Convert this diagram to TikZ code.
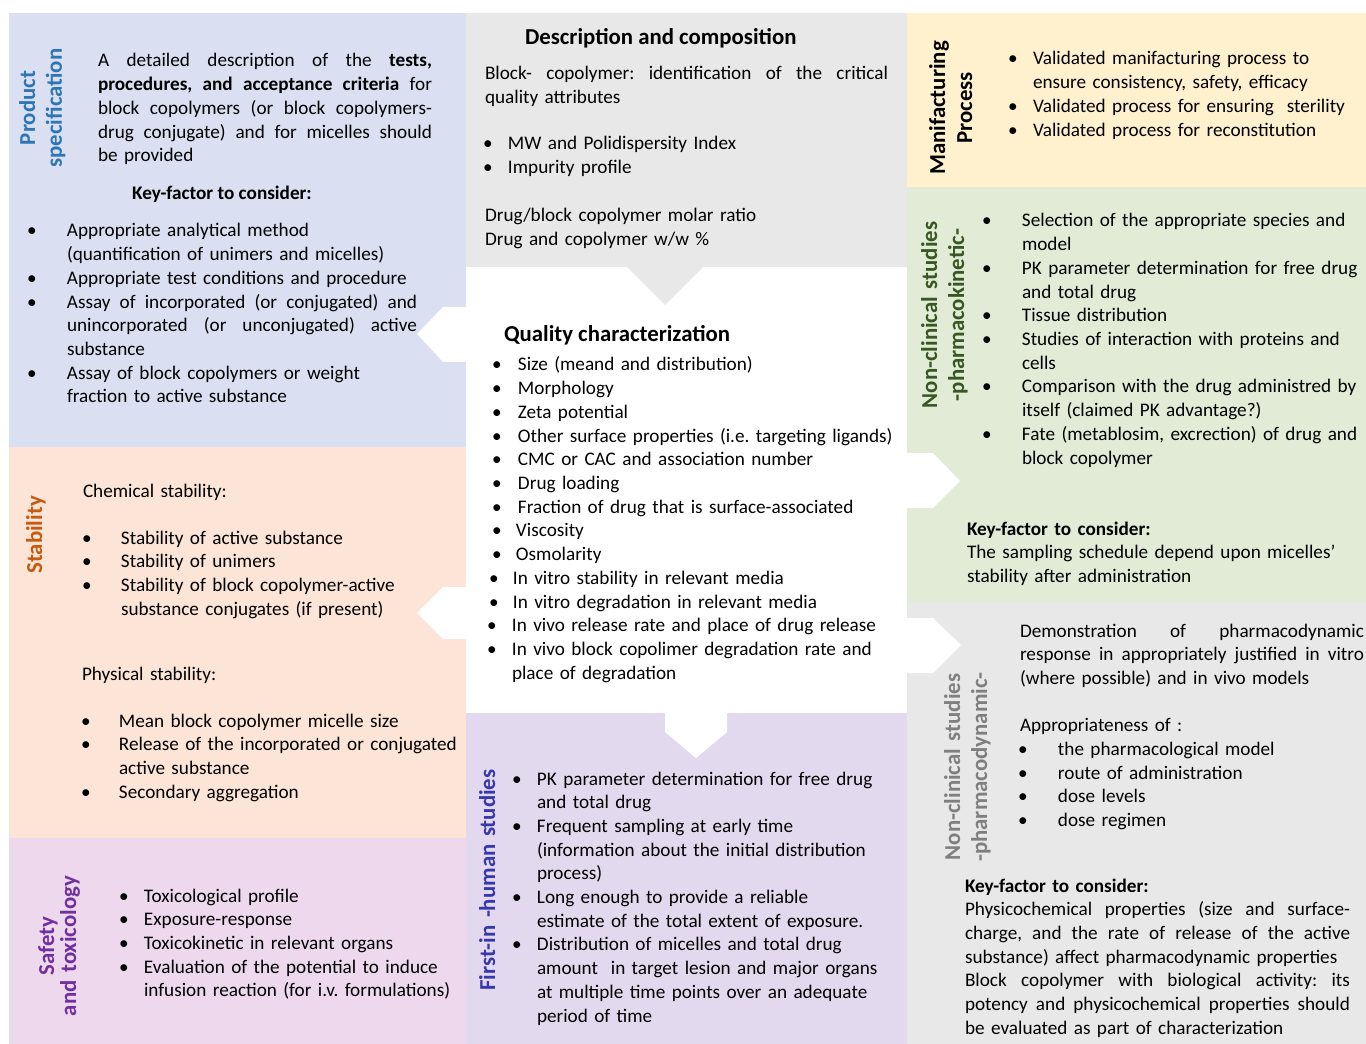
\documentclass[tikz,border=0pt]{standalone}
\usepackage{fontspec}
\setmainfont{Carlito}
\newlength\px \setlength\px{0.75pt}
\newlength\bl
\newlength\jw
\newcommand\bodyf{\fontsize{14.4pt}{17.78pt}\selectfont\frenchspacing\setlength\parskip{0pt}}
\newcommand\titf{\fontsize{17.1pt}{20.25pt}\selectfont\bfseries}
\newcommand\SL{\rule{0pt}{16\px}}
\newcommand\BB[3]{\par\noindent\SL\hspace*{#1}\makebox[#2][l]{\makebox[0pt]{\textbullet}}#3\par}
\newcommand\B[1]{\BB{0pt}{\bl}{#1}}
\newcommand\C[1]{\par\noindent\SL\hspace*{\bl}#1\par}
\newcommand\JB[1]{\hbox to \jw{\spaceskip=\fontdimen2\font plus 1fil\relax #1}}
\newcommand\BJ[1]{\BB{0pt}{\bl}{\JB{#1}}}
\newcommand\CJ[1]{\C{\JB{#1}}}
\newcommand\J[1]{\par\noindent\SL\JB{#1}\par}
\newcommand\R[1]{\par\noindent\SL#1\par}
\newcommand\E{\par\noindent\SL\par}
\definecolor{cblue}{RGB}{218,224,242}
\definecolor{cgrey}{RGB}{232,232,232}
\definecolor{cyellow}{RGB}{255,241,205}
\definecolor{cgreen}{RGB}{225,235,214}
\definecolor{csalmon}{RGB}{252,228,214}
\definecolor{cpink}{RGB}{237,216,238}
\definecolor{cpurple}{RGB}{227,217,239}
\definecolor{tblue}{RGB}{46,117,182}
\definecolor{torange}{RGB}{197,90,17}
\definecolor{tpurple}{RGB}{112,48,160}
\definecolor{tindigo}{RGB}{55,55,175}
\definecolor{tgreen}{RGB}{56,87,35}
\definecolor{tgrey}{RGB}{127,127,127}
\tikzset{
  txt/.style={anchor=north west, inner sep=0pt, outer sep=0pt, text width=20cm, font=\bodyf, yshift=5.78pt},
  tt/.style={anchor=base west, inner sep=0pt, outer sep=0pt, font=\titf},
  kf/.style={anchor=base, inner sep=0pt, outer sep=0pt, font=\bodyf\bfseries},
  vt/.style={anchor=base, inner sep=0pt, outer sep=0pt, rotate=90, text width=8cm, align=center, font=\titf},
  vts/.style={vt, font=\fontsize{17.1pt}{16.5pt}\selectfont\bfseries},
  notch/.style={fill=white}
}
\begin{document}
\begin{tikzpicture}[x=0.75pt,y=-0.75pt]
\path[use as bounding box, fill=white] (0,0) rectangle (1366,1044);
% panels
\fill[cblue] (9,13) rectangle (466,447);
\fill[cgrey] (466,13) -- (907,13) -- (907,267) -- (703,267) -- (665,305) -- (627,267) -- (466,267) -- cycle;
\fill[cyellow] (907,13) rectangle (1366,187);
\fill[cgreen] (907,187) rectangle (1366,602);
\fill[cgrey] (907,602) rectangle (1366,1044);
\fill[csalmon] (9,447) rectangle (466,838);
\fill[cpink] (9,838) rectangle (466,1044);
\fill[cpurple] (466,713) rectangle (907,1044);
% white arrows
\fill[notch] (467,307) -- (443,307) -- (417,334) -- (443,362) -- (467,362) -- cycle;
\fill[notch] (467,587) -- (443,587) -- (417,613) -- (443,639) -- (467,639) -- cycle;
\fill[notch] (906,453) -- (933,453) -- (960,481) -- (933,508) -- (906,508) -- cycle;
\fill[notch] (906,618) -- (933,618) -- (961,645) -- (933,673) -- (906,673) -- cycle;
\fill[notch] (665,712) -- (727,712) -- (727,732) -- (696,758) -- (665,732) -- cycle;

% Product specification
\node[vt,text=tblue] (pstitle) at (35,108) {Product\\specification};
\node[txt] (psintro) at (98,51) {\setlength\jw{334\px}%
\J{A detailed description of the \textbf{tests,}}%
\J{\textbf{procedures, and acceptance criteria} for}%
\J{block copolymers (or block copolymers-}%
\J{drug conjugate) and for micelles should}%
\R{be provided}};
\node[kf] (pskey) at (222,200) {Key-factor to consider:};
\node[txt] (psbul) at (32,221) {\setlength\bl{35\px}\setlength\jw{350\px}%
\B{Appropriate analytical method}%
\C{(quantification of unimers and micelles)}%
\B{Appropriate test conditions and procedure}%
\BJ{Assay of incorporated (or conjugated) and}%
\CJ{unincorporated (or unconjugated) active}%
\C{substance}%
\B{Assay of block copolymers or weight}%
\C{fraction to active substance}};

% Description and composition
\node[tt] (dctitle) at (525,45) {Description and composition};
\node[txt] (dcpara) at (485,64) {\setlength\jw{403\px}%
\J{Block- copolymer: identification of the critical}%
\R{quality attributes}};
\node[txt] (dcbul) at (488,134) {\setlength\bl{20\px}%
\B{MW and Polidispersity Index}%
\B{Impurity profile}};
\node[txt] (dcratio) at (485,206) {%
\R{Drug/block copolymer molar ratio}%
\R{Drug and copolymer w/w \%}};

% Quality characterization
\node[tt] (qctitle) at (504,342) {Quality characterization};
\node[txt] (qcbul) at (497,355) {\setlength\bl{21\px}%
\B{Size (meand and distribution)}%
\B{Morphology}%
\B{Zeta potential}%
\B{Other surface properties (i.e. targeting ligands)}%
\B{CMC or CAC and association number}%
\B{Drug loading}%
\B{Fraction of drug that is surface-associated}%
\BB{0pt}{19\px}{Viscosity}%
\BB{0pt}{19\px}{Osmolarity}%
\BB{-3\px}{19\px}{In vitro stability in relevant media}%
\BB{-3\px}{19\px}{In vitro degradation in relevant media}%
\BB{-5\px}{20\px}{In vivo release rate and place of drug release}%
\BB{-5\px}{20\px}{In vivo block copolimer degradation rate and}%
\C{\hspace*{-6\px}place of degradation}};

% Manufacturing
\node[vt] (mptitle) at (945,108) {Manifacturing\\Process};
\node[txt] (mpbul) at (1013,49) {\setlength\bl{20\px}%
\B{Validated manifacturing process to}%
\C{ensure consistency, safety, efficacy}%
\B{Validated process for ensuring\ \ sterility}%
\B{Validated process for reconstitution}};

% Pharmacokinetic
\node[vt,text=tgreen] (pktitle) at (937,315) {Non-clinical studies\\-pharmacokinetic-};
\node[txt] (pkbul) at (987,211) {\setlength\bl{35\px}%
\B{Selection of the appropriate species and}%
\C{model}%
\B{PK parameter determination for free drug}%
\C{and total drug}%
\B{Tissue distribution}%
\B{Studies of interaction with proteins and}%
\C{cells}%
\B{Comparison with the drug administred by}%
\C{itself (claimed PK advantage?)}%
\B{Fate (metablosim, excrection) of drug and}%
\C{block copolymer}};
\node[txt] (pkkey) at (967,519) {%
\R{\textbf{Key-factor to consider:}}%
\R{The sampling schedule depend upon micelles’}%
\R{stability after administration}};

% Pharmacodynamic
\node[vt,text=tgrey] (pdtitle) at (960,767) {Non-clinical studies\\-pharmacodynamic-};
\node[txt] (pdtext) at (1020,621) {\setlength\jw{344\px}\setlength\bl{35\px}%
\J{Demonstration of pharmacodynamic}%
\J{response in appropriately justified in vitro}%
\R{(where possible) and in vivo models}%
\E
\R{Appropriateness of :}%
\BB{3\px}{\bl}{the pharmacological model}%
\BB{3\px}{\bl}{route of administration}%
\BB{3\px}{\bl}{dose levels}%
\BB{3\px}{\bl}{dose regimen}};
\node[txt] (pdkey) at (965,876) {\setlength\jw{385\px}%
\R{\textbf{Key-factor to consider:}}%
\J{Physicochemical properties (size and surface-}%
\J{charge, and the rate of release of the active}%
\R{substance) affect pharmacodynamic properties}%
\J{Block copolymer with biological activity: its}%
\J{potency and physicochemical properties should}%
\R{be evaluated as part of characterization}};

% Stability
\node[vt,text=torange] (sttitle) at (42,535) {Stability};
\node[txt] (stchem) at (83,481) {\R{Chemical stability:}};
\node[txt] (stchembul) at (87,528) {\setlength\bl{34\px}%
\B{Stability of active substance}%
\B{Stability of unimers}%
\B{Stability of block copolymer-active}%
\C{substance conjugates (if present)}};
\node[txt] (stphys) at (82,664) {\R{Physical stability:}};
\node[txt] (stphysbul) at (86,711) {\setlength\bl{33\px}%
\B{Mean block copolymer micelle size}%
\B{Release of the incorporated or conjugated}%
\C{active substance}%
\B{Secondary aggregation}};

% Safety and toxicology
\node[vts,text=tpurple] (sftitle) at (54,946) {Safety\\and toxicology};
\node[txt] (sfbul) at (124,886) {\setlength\bl{20\px}%
\B{Toxicological profile}%
\B{Exposure-response}%
\B{Toxicokinetic in relevant organs}%
\B{Evaluation of the potential to induce}%
\C{infusion reaction (for i.v. formulations)}};

% First-in-human
\node[vt,text=tindigo] (fhtitle) at (495,880) {First-in -human studies};
\node[txt] (fhbul) at (517,769) {\setlength\bl{20\px}%
\B{PK parameter determination for free drug}%
\C{and total drug}%
\B{Frequent sampling at early time}%
\C{(information about the initial distribution}%
\C{process)}%
\B{Long enough to provide a reliable}%
\C{estimate of the total extent of exposure.}%
\B{Distribution of micelles and total drug}%
\C{amount\ \ in target lesion and major organs}%
\C{at multiple time points over an adequate}%
\C{period of time}};
\end{tikzpicture}
\end{document}
